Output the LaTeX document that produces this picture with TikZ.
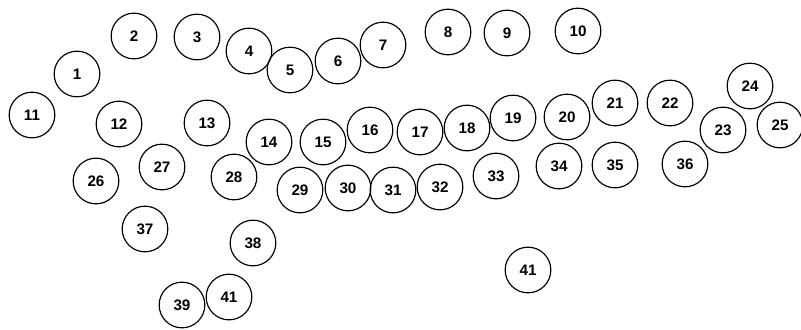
\documentclass[tikz,border=0pt]{standalone}
\usepackage{fontspec}
\setmainfont{Liberation Sans}
\usepackage{tikz}
\usetikzlibrary{positioning}

\tikzset{
  ball/.style={circle, draw, line width=1pt, minimum size=1.37cm, inner sep=0pt,
    font=\fontsize{13}{15}\selectfont\bfseries}
}

\begin{document}
\begin{tikzpicture}[x=0.03cm, y=-0.03cm]
\useasboundingbox (0,0) rectangle (801,329);
% circles, top rows
\foreach \id/\lab/\px/\py in {1/1/77/74, 2/2/134/36, 3/3/197/37, 4/4/249/51, 5/5/290/70,
  6/6/338/61, 7/7/383/45, 8/8/448/32, 9/9/507/33, 10/10/578/31}
  \node[ball] (c\id) at (\px,\py) {\lab};
% middle band
\foreach \id/\lab/\px/\py in {11/11/32/115, 12/12/119/124, 13/13/207/123, 14/14/269/142,
  15/15/323/142, 16/16/370/130, 17/17/420/132, 18/18/467/128, 19/19/513/118,
  20/20/567/117, 21/21/615/103, 22/22/670/103, 23/23/723/130, 24/24/750/86, 25/25/780/125}
  \node[ball] (c\id) at (\px,\py) {\lab};
% lower rows
\foreach \id/\lab/\px/\py in {26/26/96/181, 27/27/162/167, 28/28/234/177, 29/29/300/190,
  30/30/348/188, 31/31/393/190, 32/32/440/187, 33/33/496/176, 34/34/559/166,
  35/35/615/165, 36/36/685/164, 37/37/145/229, 38/38/253/243, 39/39/182/305,
  40/41/229/297, 41/41/528/270}
  \node[ball] (c\id) at (\px,\py) {\lab};
\end{tikzpicture}
\end{document}
